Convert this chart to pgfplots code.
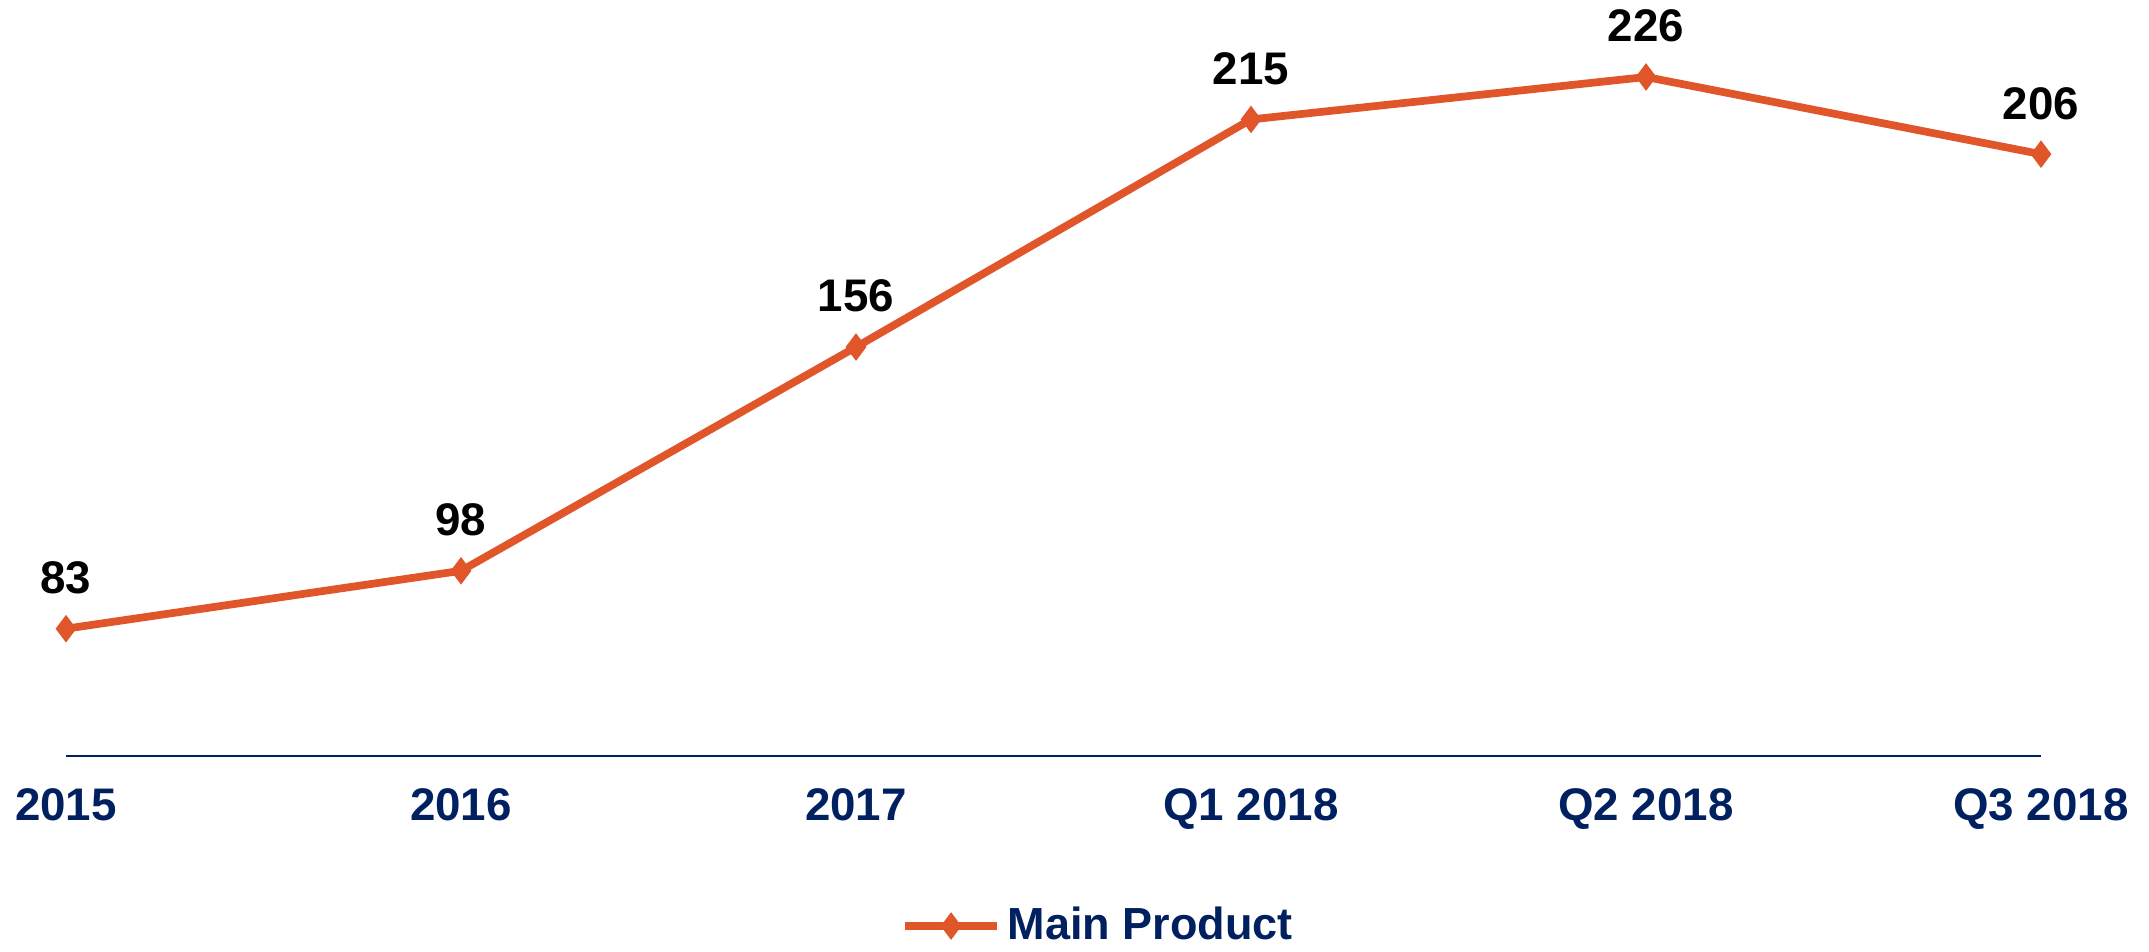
\documentclass[border=0pt]{standalone}
\usepackage{fontspec}
\setmainfont{Liberation Sans}
\usepackage{pgfplots}
\pgfplotsset{compat=1.18}
\usetikzlibrary{calc}
\definecolor{lineorange}{RGB}{224,85,42}
\definecolor{navy}{RGB}{0,32,96}
\newcommand{\tL}{\fontsize{13}{15}\selectfont\bfseries}
\newcommand{\tG}{\fontsize{12.8}{14.8}\selectfont\bfseries}

\begin{document}
\begin{tikzpicture}
\begin{axis}[
  name=ax,
  scale only axis,
  width=197.5mm, height=73.3mm,
  xmin=0, xmax=5, ymin=50, ymax=240,
  axis x line=bottom, axis y line=none,
  x axis line style={-, draw=navy, line width=0.6pt},
  xtick={0,1,2,3,4,5},
  xticklabels={2015,2016,2017,Q1 2018,Q2 2018,Q3 2018},
  xtick style={draw=none},
  xticklabel style={font=\tL, text=navy, inner sep=0pt, anchor=north, yshift=-2.4mm},
  ytick=\empty,
  clip=false,
  nodes near coords,
  nodes near coords style={font=\tL, text=black, inner sep=0pt, anchor=south, yshift=3.4mm},
  /pgf/number format/assume math mode=true,
  legend style={at={(0.5238,-0.232)}, anchor=center, draw=none, fill=none,
                font=\tG, text=navy, inner sep=0pt, nodes={inner sep=0.7mm}},
  legend image code/.code={\draw[mark repeat=2,mark phase=2,#1]
      plot coordinates {(0mm,0mm)(4.6mm,0mm)(9.2mm,0mm)};},
]
% ---------- series ----------
\addplot[color=lineorange, line width=2.2pt, mark=diamond*, mark size=3.6pt,
         mark options={solid, line width=0.4pt}]
  coordinates {(0,83) (1,98) (2,156) (3,215) (4,226) (5,206)};
\addlegendentry{Main Product}
\end{axis}
% ---------- page frame ----------
\path ($(ax.south west)+(-6.6mm,-19.4mm)$) rectangle ($(ax.north east)+(10.8mm,2.3mm)$);
\end{tikzpicture}
\end{document}
